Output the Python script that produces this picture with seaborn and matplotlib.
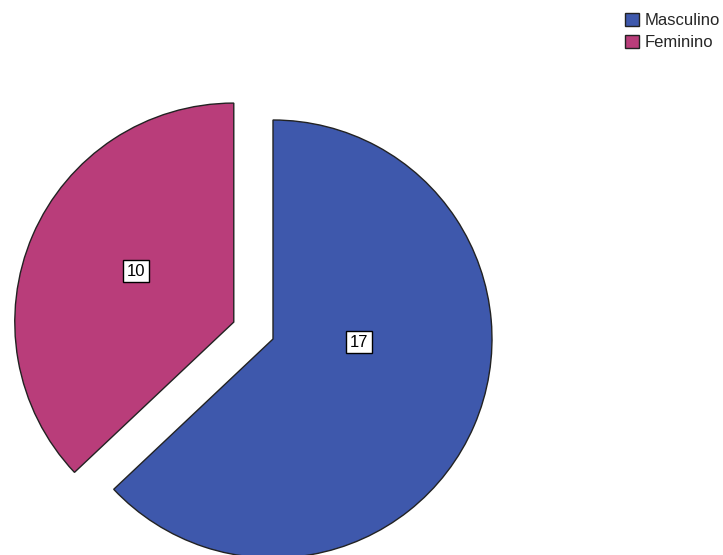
import numpy as np
import seaborn as sns
import matplotlib
matplotlib.use("Agg")
import matplotlib.pyplot as plt
from matplotlib.patches import Patch

categories = ['Masculino', 'Feminino']
counts = [17, 10]
colors = ['#3E58AC', '#B93D7A']
explode = [0, 0.195]

sns.set_theme(style='white')
plt.rcParams['font.family'] = ['Liberation Sans', 'DejaVu Sans']

fig = plt.figure(figsize=(7.23, 5.55), dpi=100)
ax = fig.add_axes([0, 0, 1, 1])

total = sum(counts)
wedges, texts, autotexts = ax.pie(
    counts, colors=colors, explode=explode, startangle=90, counterclock=False,
    autopct=lambda p: f"{int(round(p * total / 100))}", pctdistance=0.51,
    wedgeprops=dict(edgecolor='#222222', linewidth=1.0),
    textprops=dict(fontsize=12, color='black'))

for t in autotexts:
    t.set_bbox(dict(boxstyle='square,pad=0.22', fc='white', ec='black', lw=1))

# SPSS-style label spots
autotexts[0].set_position((0.393, -0.014))
autotexts[1].set_position((-0.625, 0.31))

ax.set_xlim(-273 / 219, (723 - 273) / 219)
ax.set_ylim((339 - 555) / 219, 339 / 219)
ax.set_aspect('equal')
ax.axis('off')

handles = [Patch(facecolor=c, edgecolor='#222222', linewidth=1) for c in colors]
fig.legend(handles, categories, loc='upper left', bbox_to_anchor=(613 / 723, 1 - 1 / 555),
           frameon=False, fontsize=12, handlelength=0.85, handleheight=0.85,
           handletextpad=0.35, labelspacing=0.4, borderpad=0.2)

fig.savefig('out.png', dpi=100)
